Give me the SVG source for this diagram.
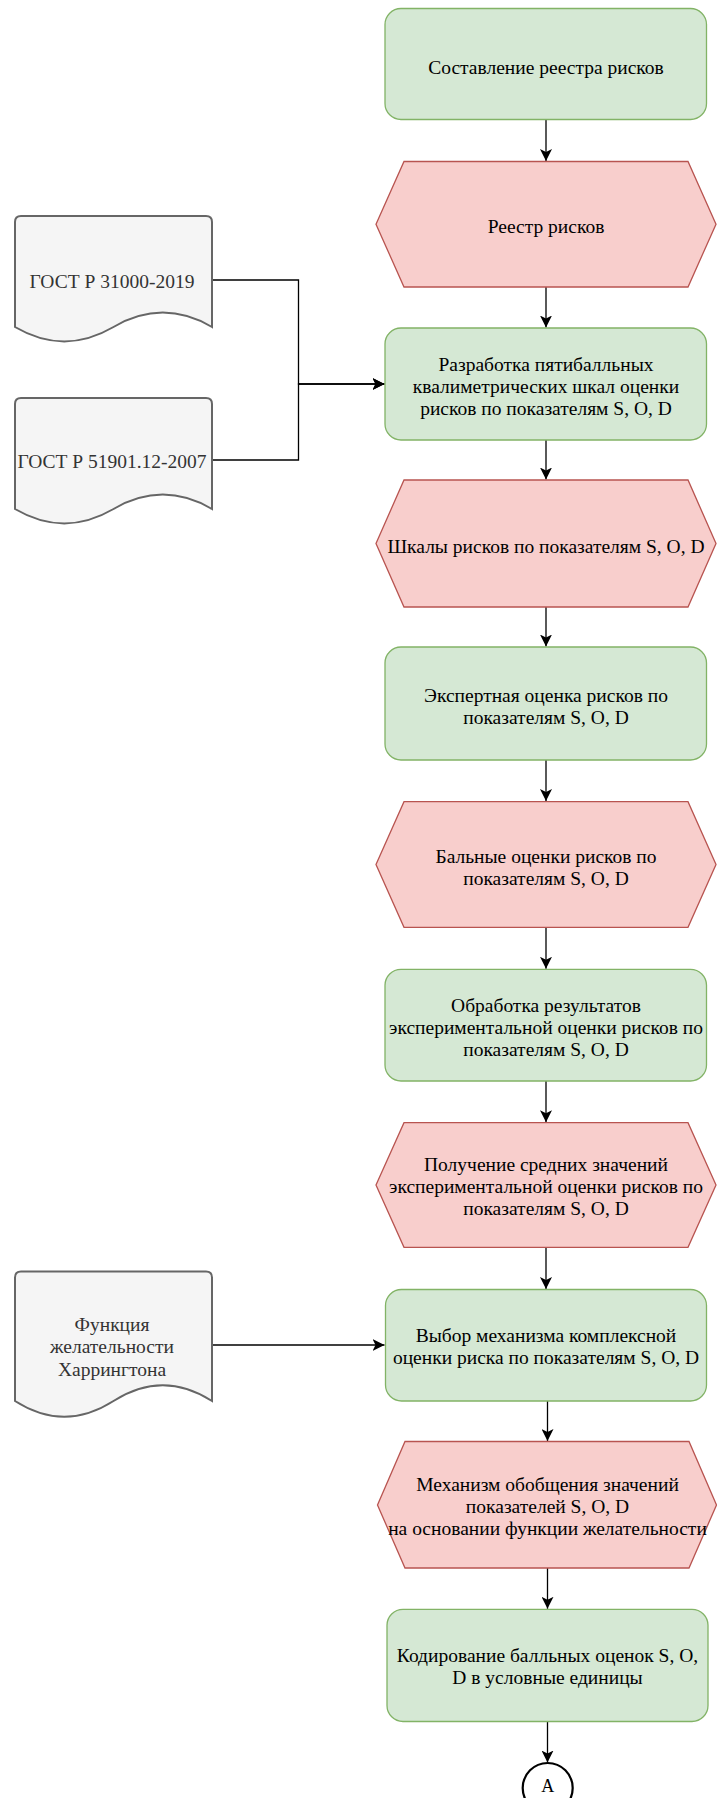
<svg xmlns="http://www.w3.org/2000/svg" width="717" height="1798" viewBox="0 0 717 1798">
<defs>
<marker id="arr" markerUnits="userSpaceOnUse" markerWidth="12" markerHeight="12" viewBox="0 0 10 10" refX="10" refY="5" orient="auto">
<path d="M0,0 L10,5 L0,10 L2.5,5 Z" fill="#000"/>
</marker>
<style>
.proc{fill:#d5e8d4;stroke:#82b366;stroke-width:1.3}
.data{fill:#f8cecc;stroke:#b85450;stroke-width:1.3}
.doc{fill:#f5f5f5;stroke:#666666;stroke-width:2}
.t{font-family:"Liberation Serif","Times New Roman",serif;font-size:19.5px;fill:#000;text-anchor:middle}
.dt{font-family:"Liberation Serif","Times New Roman",serif;font-size:19.5px;fill:#333333;text-anchor:middle}
.edge{fill:none;stroke:#000;stroke-width:1.3;marker-end:url(#arr)}
</style>
</defs>
<rect width="717" height="1798" fill="#ffffff"/>
<g id="connectors">
<path class="edge" d="M546,119.5 V161"/>
<path class="edge" d="M546,287 V327.5"/>
<path class="edge" d="M212,280 H298.5 V384 H384.5"/>
<path class="edge" d="M212,460 H298.5 V384 H384.5"/>
<path class="edge" d="M546,440 V479.5"/>
<path class="edge" d="M546,607 V646.5"/>
<path class="edge" d="M546,760 V801"/>
<path class="edge" d="M546,927.3 V968.8"/>
<path class="edge" d="M546,1081 V1122.2"/>
<path class="edge" d="M546,1247.3 V1289"/>
<path class="edge" d="M212,1345 H384.5"/>
<path class="edge" d="M547.5,1401 V1441"/>
<path class="edge" d="M547.5,1568 V1608.8"/>
<path class="edge" d="M547.5,1721.5 V1762.5"/>
</g>
<g id="n1">
<rect class="proc" x="385" y="8.5" width="321.5" height="111" rx="16"/>
<text class="t" x="546" y="74">Составление реестра рисков</text>
</g>
<g id="n2">
<polygon class="data" points="376,224.2 404,161.5 688,161.5 716,224.2 688,287 404,287"/>
<text class="t" x="546" y="233">Реестр рисков</text>
</g>
<g id="doc1">
<path class="doc" d="M15,222 Q15,216 21,216 H206 Q212,216 212,222 V327 Q162.75,298.2 113.5,327 Q64.25,355.8 15,327 Z"/>
<text class="dt" x="112" y="288">ГОСТ Р 31000-2019</text>
</g>
<g id="doc2">
<path class="doc" d="M15,404 Q15,398 21,398 H206 Q212,398 212,404 V509 Q162.75,480.2 113.5,509 Q64.25,537.8 15,509 Z"/>
<text class="dt" x="112" y="468">ГОСТ Р 51901.12-2007</text>
</g>
<g id="n3">
<rect class="proc" x="385" y="328" width="321.5" height="112" rx="16"/>
<text class="t" x="546" y="371">Разработка пятибалльных</text>
<text class="t" x="546" y="393">квалиметрических шкал оценки</text>
<text class="t" x="546" y="415">рисков по показателям S, O, D</text>
</g>
<g id="n4">
<polygon class="data" points="376,543.5 404,480 688,480 716,543.5 688,607 404,607"/>
<text class="t" x="546" y="553">Шкалы рисков по показателям S, O, D</text>
</g>
<g id="n5">
<rect class="proc" x="385" y="647" width="321.5" height="113" rx="16"/>
<text class="t" x="546" y="702">Экспертная оценка рисков по</text>
<text class="t" x="546" y="724">показателям S, O, D</text>
</g>
<g id="n6">
<polygon class="data" points="376,864.5 404,801.7 688,801.7 716,864.5 688,927.3 404,927.3"/>
<text class="t" x="546" y="862.5">Бальные оценки рисков по</text>
<text class="t" x="546" y="884.5">показателям S, O, D</text>
</g>
<g id="n7">
<rect class="proc" x="385" y="969.3" width="321.5" height="111.7" rx="16"/>
<text class="t" x="546" y="1012">Обработка результатов</text>
<text class="t" x="546" y="1034">экспериментальной оценки рисков по</text>
<text class="t" x="546" y="1056">показателям S, O, D</text>
</g>
<g id="n8">
<polygon class="data" points="376,1185 404,1122.7 688,1122.7 716,1185 688,1247.3 404,1247.3"/>
<text class="t" x="546" y="1170.5">Получение средних значений</text>
<text class="t" x="546" y="1192.5">экспериментальной оценки рисков по</text>
<text class="t" x="546" y="1214.5">показателям S, O, D</text>
</g>
<g id="doc3">
<path class="doc" d="M15,1277.5 Q15,1271.5 21,1271.5 H206 Q212,1271.5 212,1277.5 V1401 Q162.75,1369.5 113.5,1401 Q64.25,1432.5 15,1401 Z"/>
<text class="dt" x="112" y="1330.5">Функция</text>
<text class="dt" x="112" y="1353">желательности</text>
<text class="dt" x="112" y="1375.5">Харрингтона</text>
</g>
<g id="n9">
<rect class="proc" x="385.5" y="1289.5" width="321" height="111.5" rx="16"/>
<text class="t" x="546" y="1341.5">Выбор механизма комплексной</text>
<text class="t" x="546" y="1363.5">оценки риска по показателям S, O, D</text>
</g>
<g id="n10">
<polygon class="data" points="377.5,1505 405,1441.5 689,1441.5 716.5,1505 689,1568 405,1568"/>
<text class="t" x="547.5" y="1491">Механизм обобщения значений</text>
<text class="t" x="547.5" y="1513">показателей S, O, D</text>
<text class="t" x="547.5" y="1535">на основании функции желательности</text>
</g>
<g id="n11">
<rect class="proc" x="387" y="1609.3" width="321" height="112.2" rx="16"/>
<text class="t" x="547.5" y="1662">Кодирование балльных оценок S, O,</text>
<text class="t" x="547.5" y="1684">D в условные единицы</text>
</g>
<g id="conA">
<circle cx="547.7" cy="1788" r="25" fill="#ffffff" stroke="#000" stroke-width="2.2"/>
<text class="t" x="547.7" y="1792" style="font-size:18px">A</text>
</g>
</svg>
